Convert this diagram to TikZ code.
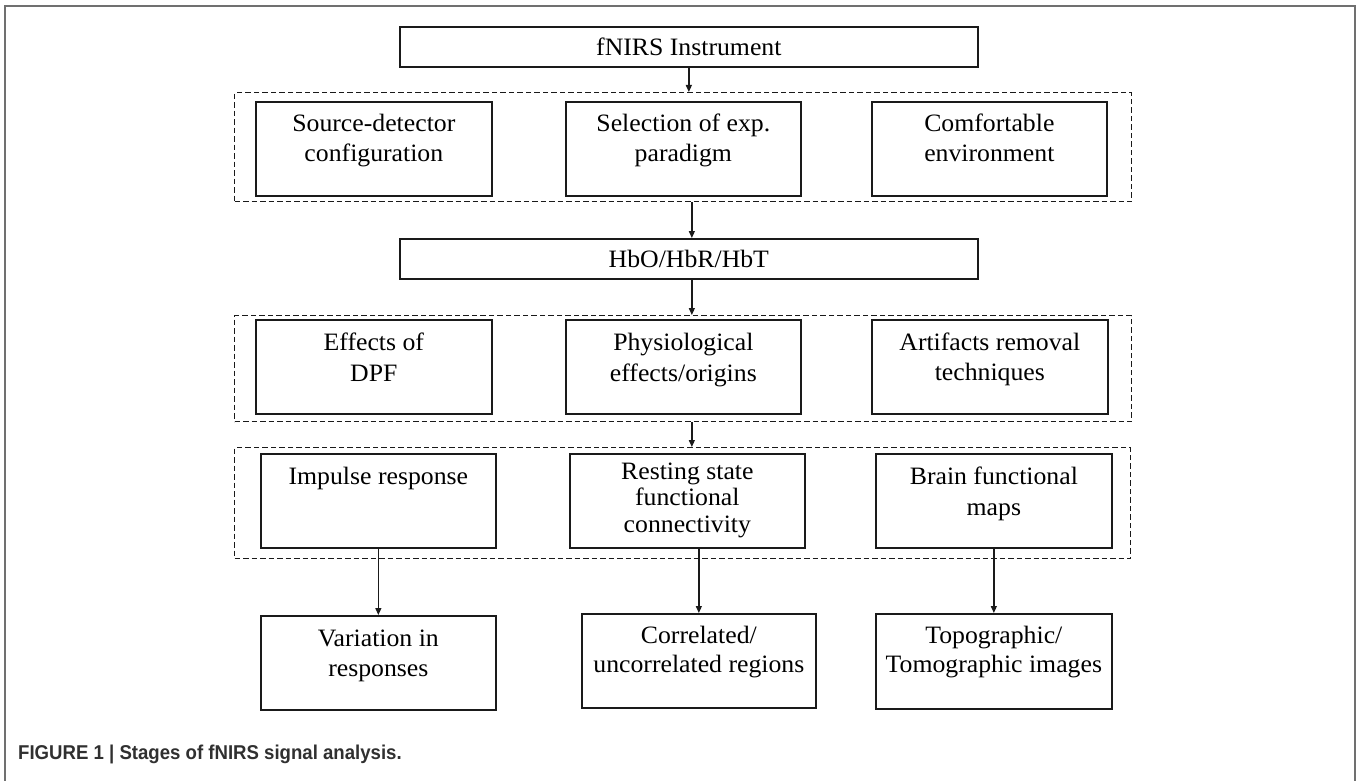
\documentclass[tikz,border=0pt]{standalone}
\usepackage{fontspec}
\setmainfont{Liberation Serif}
\newfontfamily\capfont[FakeStretch=0.93]{Liberation Sans}
\newfontfamily\boxfont[FakeStretch=1.03]{Liberation Serif}
\usetikzlibrary{arrows.meta,calc}
\definecolor{linec}{HTML}{1A1A1A}
\definecolor{framec}{HTML}{707070}
\definecolor{capc}{HTML}{303030}
\begin{document}
\begin{tikzpicture}[x=1pt,y=-1pt,
  box/.style={draw=linec,line width=1.7pt,inner sep=0pt,anchor=north west},
  grp/.style={draw=linec,line width=1.2pt,dash pattern=on 5.5pt off 3pt,inner sep=0pt,anchor=north west},
  bf/.style={font=\boxfont\fontsize{25}{30.5}\selectfont},
  txt/.style={bf,anchor=north,inner sep=0pt,yshift=-12.5pt,align=center,text=black},
  arr/.style={draw=linec,line width=1.3pt,-{Triangle[length=7pt,width=6pt]}}]
\useasboundingbox (0,0) rectangle (1357,781);
% outer frame
\draw[framec,line width=1.8pt] (5,790) -- (5,6) -- (1355,6) -- (1355,790);

% top boxes
\node[box,bf,minimum width=578pt,minimum height=40pt] (fnirs) at (399,26) {fNIRS Instrument};
\node[grp,minimum width=897pt,minimum height=109pt] (d1) at (234,92) {};
\node[box,minimum width=236pt,minimum height=94pt,label={[txt]north:{Source-detector\\configuration}}] (src) at (255,101) {};
\node[box,minimum width=235pt,minimum height=94pt,label={[txt]north:{Selection of exp.\\paradigm}}] (sel) at (565,101) {};
\node[box,minimum width=235pt,minimum height=94pt,label={[txt]north:{Comfortable\\environment}}] (com) at (871,101) {};

\node[box,bf,minimum width=578pt,minimum height=40pt] (hb) at (399,238) {HbO/HbR/HbT};

\node[grp,minimum width=897pt,minimum height=106pt] (d2) at (234,315) {};
\node[box,minimum width=236pt,minimum height=94pt,label={[txt,yshift=-1.5pt]north:{Effects of\\DPF}}] (dpf) at (255,319) {};
\node[box,minimum width=235pt,minimum height=94pt,label={[txt,yshift=-1.5pt]north:{Physiological\\effects/origins}}] (phy) at (565,319) {};
\node[box,minimum width=236pt,minimum height=94pt,label={[txt,yshift=-1pt]north:{Artifacts removal\\techniques}}] (art) at (871,319) {};

\node[grp,minimum width=896pt,minimum height=111pt] (d3) at (234,447) {};
\node[box,minimum width=235pt,minimum height=94pt,label={[txt,yshift=-1.5pt]north:{Impulse response}}] (imp) at (260,453) {};
\node[box,minimum width=235pt,minimum height=94pt,label={[txt,yshift=3pt,font=\boxfont\fontsize{25}{26.5}\selectfont]north:{Resting state\\functional\\connectivity}}] (rest) at (569,453) {};
\node[box,minimum width=236pt,minimum height=94pt,label={[txt,yshift=-1.5pt,font=\boxfont\fontsize{25}{31}\selectfont]north:{Brain functional\\maps}}] (brain) at (875,453) {};

\node[box,minimum width=235pt,minimum height=94pt,label={[txt,yshift=-2pt,font=\boxfont\fontsize{25}{30}\selectfont]north:{Variation in\\responses}}] (var) at (260,615) {};
\node[box,minimum width=234pt,minimum height=94pt,label={[txt,font=\boxfont\fontsize{25}{29.6}\selectfont]north:{Correlated/\\uncorrelated regions}}] (corr) at (581,613) {};
\node[box,minimum width=236pt,minimum height=95pt,label={[txt,font=\boxfont\fontsize{25}{29.6}\selectfont]north:{Topographic/\\Tomographic images}}] (topo) at (875,613) {};

% connectors
\draw[arr] (fnirs.south) -- (fnirs.south |- d1.north);
\draw[arr] ([xshift=3pt]hb.north |- d1.south) -- ([xshift=3pt]hb.north);
\draw[arr] ([xshift=3pt]hb.south) -- ([xshift=3pt]hb.south |- d2.north);
\draw[arr] ([xshift=3pt]hb.south |- d2.south) -- ([xshift=3pt]hb.south |- d3.north);
\draw[arr] (imp.south) -- (var.north);
\draw[arr] (corr.north |- rest.south) -- (corr.north);
\draw[arr] (brain.south) -- (topo.north);

% caption
\node[anchor=base west,inner sep=0pt,font=\capfont\bfseries\fontsize{20}{22}\selectfont,text=capc] (cap) at (18,759.5) {FIGURE 1 | Stages of fNIRS signal analysis.};
\end{tikzpicture}
\end{document}
